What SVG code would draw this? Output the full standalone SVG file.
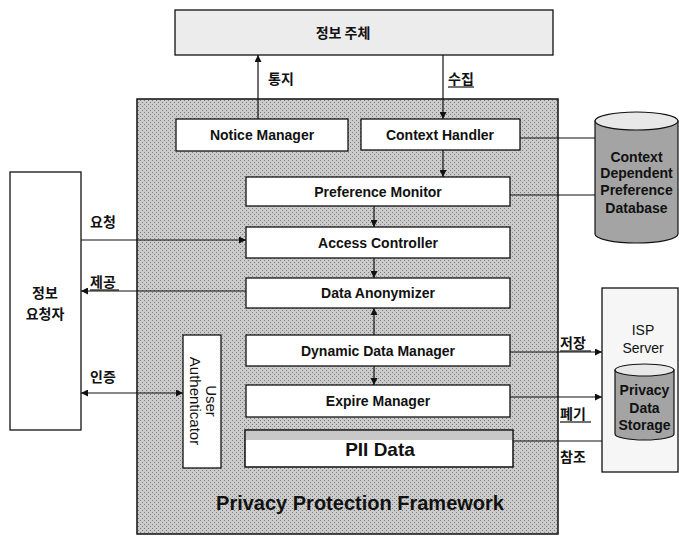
<svg xmlns="http://www.w3.org/2000/svg" width="679" height="536" viewBox="0 0 679 536">
<defs>
<style>
.box{fill:#ffffff;stroke:#111;stroke-width:1.3}
.lbl{font-family:"Liberation Sans",Arial,sans-serif;font-weight:bold;font-size:14px;fill:#111;text-anchor:middle}
.ko{font-family:"Noto Sans CJK KR","Noto Sans",sans-serif;font-weight:bold;font-size:14px;fill:#111}
.ln{stroke:#111;stroke-width:1.2;fill:none}
.cyl{fill:#a4a4a4;stroke:#111;stroke-width:1.2}
.cyltop{fill:#e8e8e8;stroke:#111;stroke-width:1.2}
.cyltxt{font-family:"Liberation Sans",Arial,sans-serif;font-weight:bold;font-size:14px;fill:#111;text-anchor:middle}
.vt{font-family:"Liberation Sans",Arial,sans-serif;font-size:15px;fill:#111;text-anchor:middle}
</style>
<marker id="ah" viewBox="0 0 10 10" refX="10" refY="5" markerWidth="7" markerHeight="7" orient="auto-start-reverse" markerUnits="userSpaceOnUse">
<path d="M0,0 L10,5 L0,10 Z" fill="#111"/>
</marker>
<pattern id="stip" width="4" height="4" patternUnits="userSpaceOnUse">
<rect width="4" height="4" fill="#cbcbcb"/>
<rect x="0" y="0" width="1" height="1" fill="#7e7e7e"/>
<rect x="2" y="2" width="1" height="1" fill="#7e7e7e"/>
</pattern>
</defs>

<g id="framework">
<rect x="137" y="99" width="421" height="435" fill="url(#stip)" stroke="#111" stroke-width="1.5"/>
<text x="360" y="510" font-family="Liberation Sans,Arial,sans-serif" font-weight="bold" font-size="20" fill="#111" text-anchor="middle">Privacy Protection Framework</text>
</g>

<g id="info-subject">
<rect x="175" y="10" width="378" height="45" fill="#ececec" stroke="#111" stroke-width="1.3"/>
<text class="ko" x="343" y="38" text-anchor="middle" font-size="15">정보 주체</text>
</g>

<g id="info-requester">
<rect x="10" y="172" width="71" height="258" fill="#fff" stroke="#111" stroke-width="1.3"/>
<text class="ko" x="45" y="298" text-anchor="middle" font-size="15">정보</text>
<text class="ko" x="45" y="319" text-anchor="middle" font-size="15">요청자</text>
</g>

<g id="notice-manager">
<rect class="box" x="176" y="119" width="172" height="32"/>
<text class="lbl" x="262" y="140">Notice Manager</text>
</g>

<g id="context-handler">
<rect class="box" x="361" y="119" width="159" height="31"/>
<text class="lbl" x="440" y="140">Context Handler</text>
</g>

<g id="preference-monitor">
<rect class="box" x="246" y="177" width="264" height="29"/>
<text class="lbl" x="378" y="197">Preference Monitor</text>
</g>

<g id="access-controller">
<rect class="box" x="246" y="227" width="264" height="31"/>
<text class="lbl" x="378" y="248">Access Controller</text>
</g>

<g id="data-anonymizer">
<rect class="box" x="246" y="278" width="264" height="30"/>
<text class="lbl" x="378" y="298">Data Anonymizer</text>
</g>

<g id="dynamic-data-manager">
<rect class="box" x="246" y="335" width="264" height="31"/>
<text class="lbl" x="378" y="356">Dynamic Data Manager</text>
</g>

<g id="expire-manager">
<rect class="box" x="246" y="385" width="264" height="32"/>
<text class="lbl" x="378" y="406">Expire Manager</text>
</g>

<g id="pii-data">
<rect x="245" y="430" width="268" height="37" fill="#fff" stroke="#111" stroke-width="1.5"/>
<rect x="246" y="431" width="266" height="9" fill="#c8c8c8"/>
<text x="380" y="456" font-family="Liberation Sans,Arial,sans-serif" font-weight="bold" font-size="19" fill="#111" text-anchor="middle">PII Data</text>
</g>

<g id="user-authenticator">
<rect class="box" x="183" y="335" width="38" height="133"/>
<text class="vt" transform="translate(202,401) rotate(90)" x="0" y="-4">User</text>
<text class="vt" transform="translate(202,401) rotate(90)" x="0" y="12">Authenticator</text>
</g>

<g id="context-db">
<path class="cyl" d="M595,121 L595,234 A41.5,9 0 0 0 678,234 L678,121 Z"/>
<ellipse class="cyltop" cx="636.5" cy="121" rx="41.5" ry="9"/>
<text class="cyltxt" x="636.5" y="162">Context</text>
<text class="cyltxt" x="636.5" y="178">Dependent</text>
<text class="cyltxt" x="636.5" y="195">Preference</text>
<text class="cyltxt" x="636.5" y="213">Database</text>
</g>

<g id="isp-server">
<rect x="602" y="288" width="76" height="184" fill="#f6f6f6" stroke="#111" stroke-width="1.3"/>
<text x="643" y="335" font-family="Liberation Sans,Arial,sans-serif" font-size="14" fill="#111" text-anchor="middle">ISP</text>
<text x="643" y="353" font-family="Liberation Sans,Arial,sans-serif" font-size="14" fill="#111" text-anchor="middle">Server</text>
</g>

<g id="privacy-data-storage">
<path class="cyl" d="M615,370 L615,434 A29.5,6 0 0 0 674,434 L674,370 Z"/>
<ellipse class="cyltop" cx="644.5" cy="370" rx="29.5" ry="6"/>
<text class="cyltxt" x="644.5" y="395">Privacy</text>
<text class="cyltxt" x="644.5" y="413">Data</text>
<text class="cyltxt" x="644.5" y="430">Storage</text>
</g>

<g id="connectors">
<line class="ln" x1="258" y1="119" x2="258" y2="55" marker-end="url(#ah)"/>
<line class="ln" x1="443" y1="55" x2="443" y2="119" marker-end="url(#ah)"/>
<line class="ln" x1="443" y1="150" x2="443" y2="177" marker-end="url(#ah)"/>
<line class="ln" x1="374" y1="206" x2="374" y2="227" marker-end="url(#ah)"/>
<line class="ln" x1="374" y1="258" x2="374" y2="278" marker-end="url(#ah)"/>
<line class="ln" x1="374" y1="335" x2="374" y2="308" marker-end="url(#ah)"/>
<line class="ln" x1="374" y1="366" x2="374" y2="385" marker-end="url(#ah)"/>
<line class="ln" x1="520" y1="138" x2="595" y2="138"/>
<line class="ln" x1="510" y1="195" x2="595" y2="195"/>
<line class="ln" x1="81" y1="240" x2="246" y2="240" marker-end="url(#ah)"/>
<line class="ln" x1="246" y1="291" x2="81" y2="291" marker-end="url(#ah)"/>
<line class="ln" x1="81" y1="393" x2="183" y2="393" marker-start="url(#ah)" marker-end="url(#ah)"/>
<line class="ln" x1="510" y1="352" x2="602" y2="352" marker-end="url(#ah)"/>
<line class="ln" x1="510" y1="397" x2="602" y2="397" marker-end="url(#ah)"/>
<line class="ln" x1="513" y1="441" x2="602" y2="441"/>
<text class="ko" x="268" y="84">통지</text>
<text class="ko" x="448" y="84">수집</text>
<line class="ln" x1="448" y1="87" x2="474" y2="87"/>
<text class="ko" x="90" y="227">요청</text>
<text class="ko" x="90" y="287">제공</text>
<line class="ln" x1="90" y1="290" x2="119" y2="290"/>
<text class="ko" x="90" y="382">인증</text>
<text class="ko" x="560" y="348">저장</text>
<line class="ln" x1="560" y1="351" x2="591" y2="351"/>
<text class="ko" x="560" y="419">폐기</text>
<line class="ln" x1="560" y1="422" x2="591" y2="422"/>
<text class="ko" x="560" y="462">참조</text>
</g>
</svg>
